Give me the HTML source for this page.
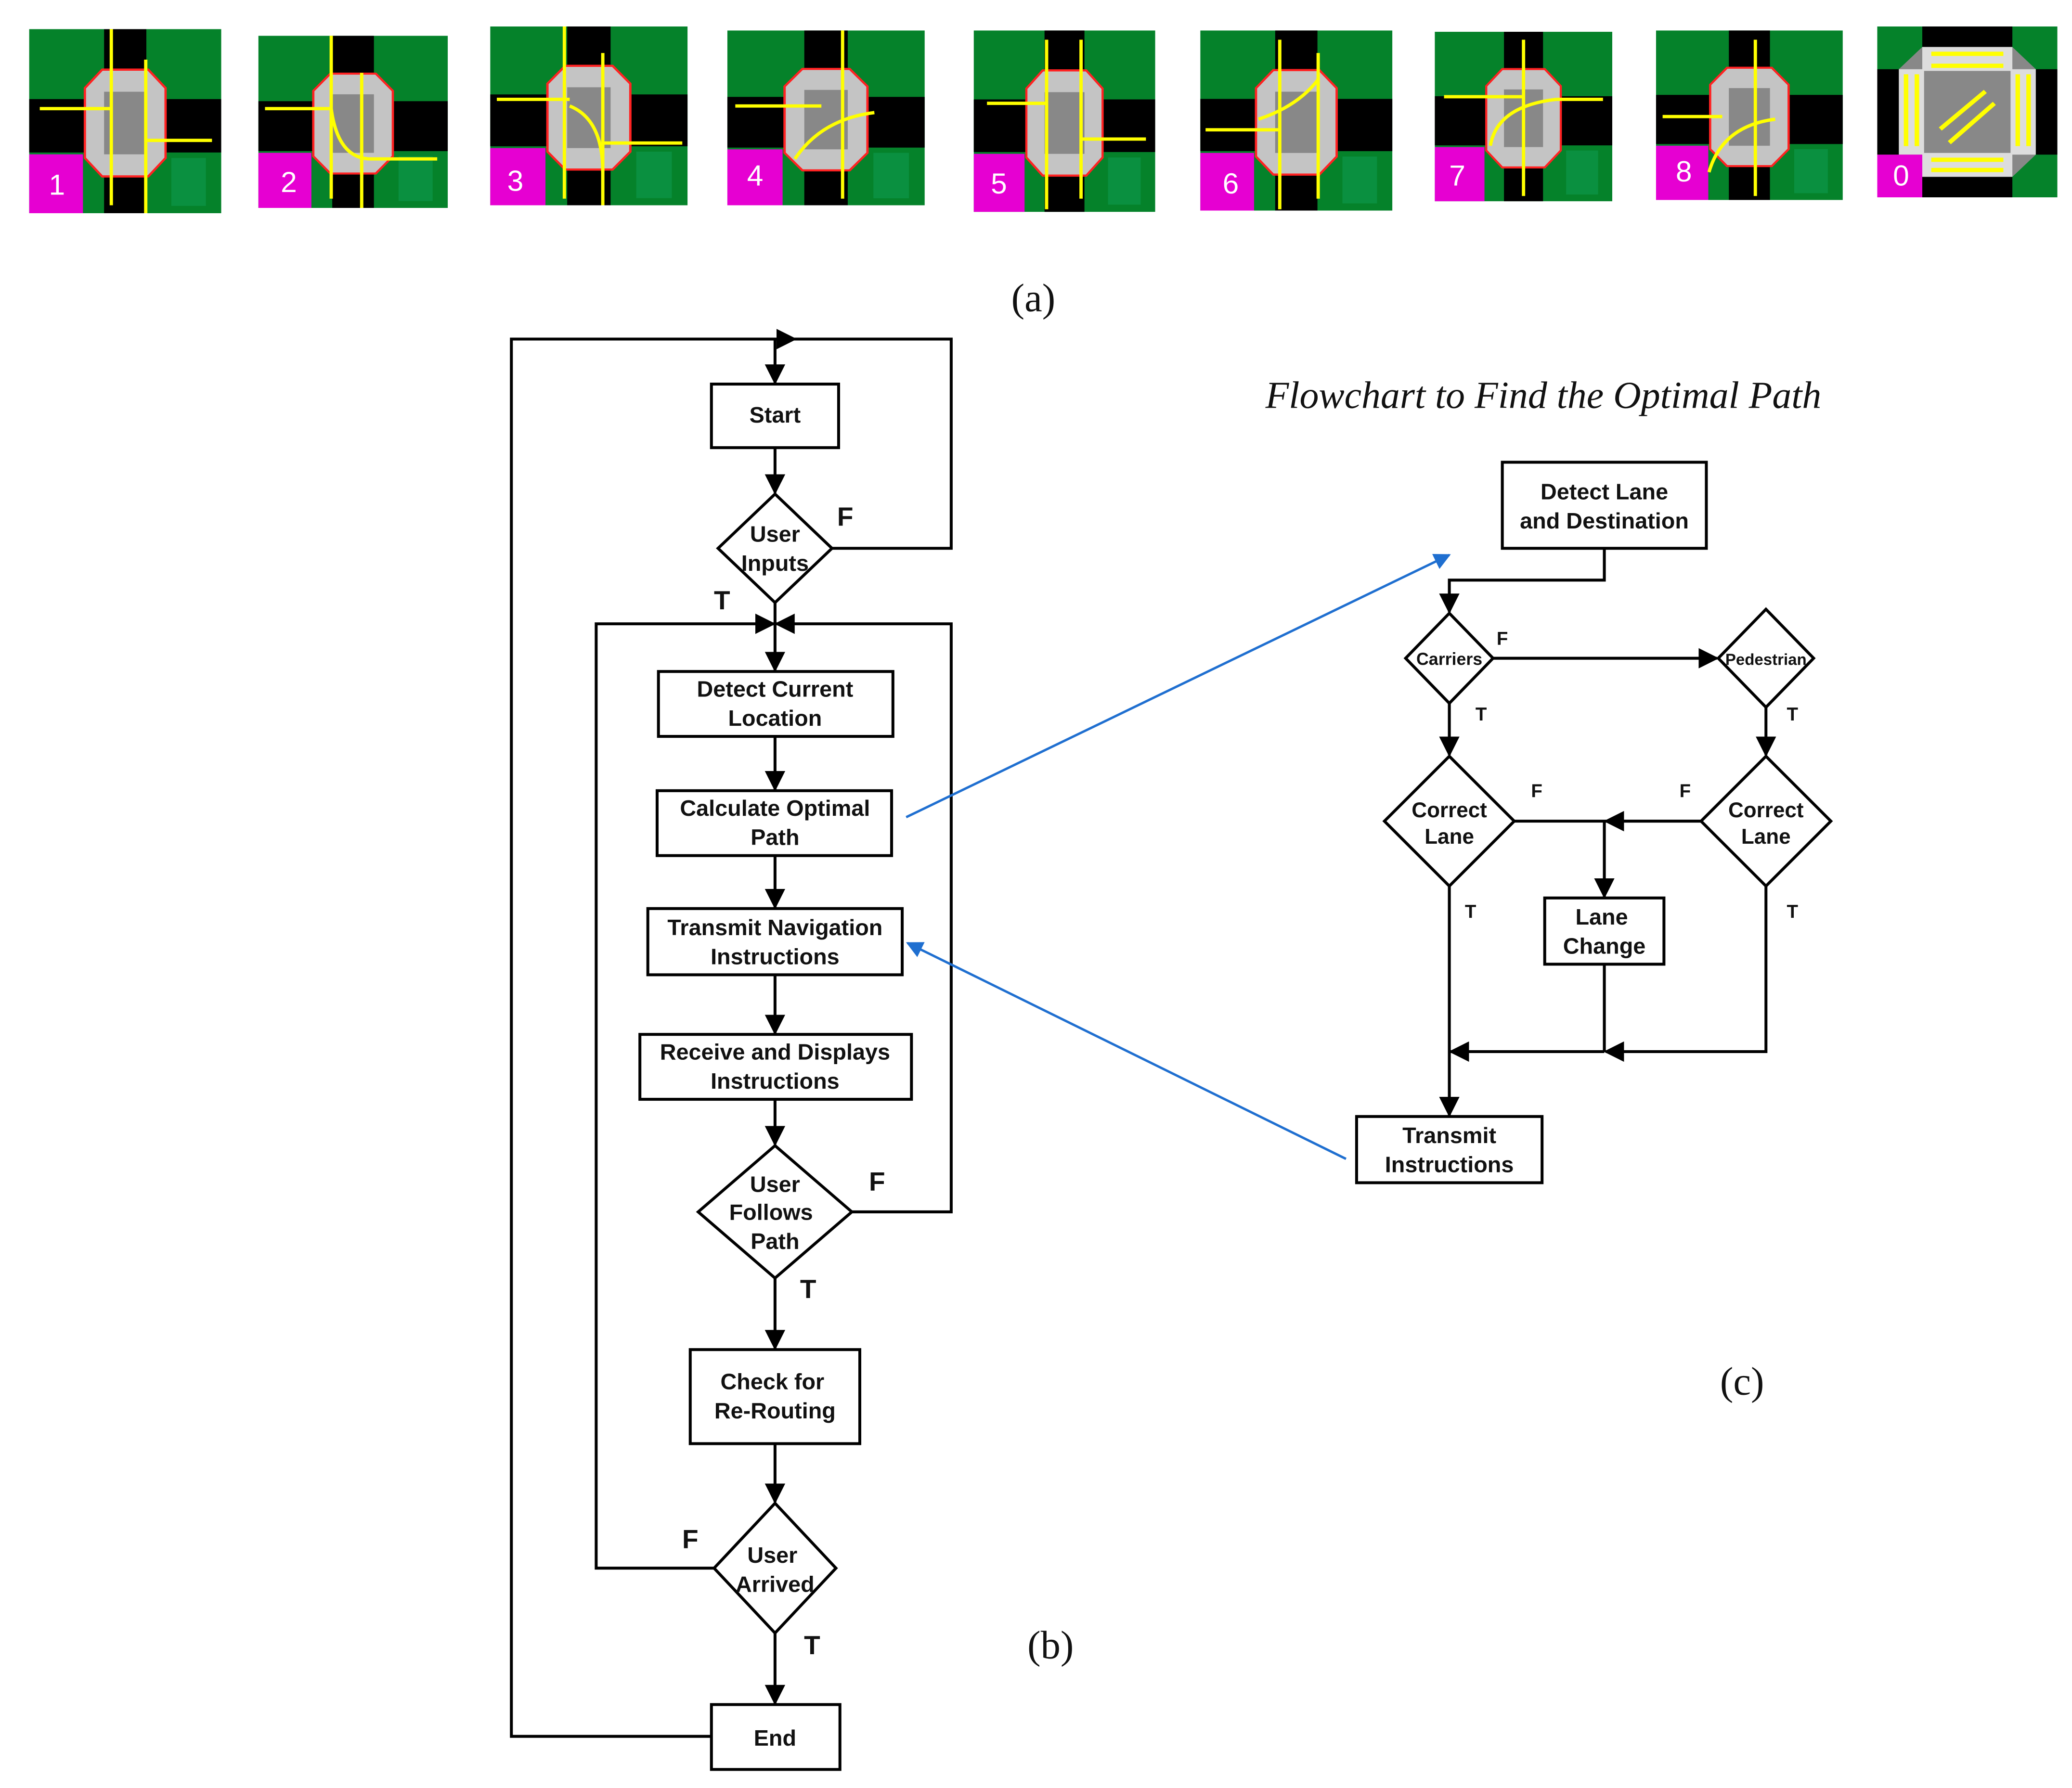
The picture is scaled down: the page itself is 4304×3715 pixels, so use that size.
<!DOCTYPE html>
<html><head><meta charset="utf-8"><style>
html,body{margin:0;padding:0;background:#fff;}
svg{display:block;}
.b{font-family:"Liberation Sans",sans-serif;font-weight:bold;font-size:17px;fill:#111;text-anchor:middle;}
.s{font-family:"Liberation Serif",serif;font-size:30px;fill:#111;text-anchor:middle;}
</style></head><body>
<svg width="4304" height="3715" viewBox="0 0 1564 1350" xmlns="http://www.w3.org/2000/svg">
<defs>
<symbol id="tile" viewBox="0 0 100 100" preserveAspectRatio="none">
<rect width="100" height="100" fill="#05822a"/>
<rect x="74" y="70" width="18" height="26" fill="#0a9040"/>
<rect x="39" y="0" width="22" height="100" fill="#000"/>
<rect x="0" y="38" width="100" height="29" fill="#000"/>
<polygon points="38,22 62,22 71,32 71,70 62,80 38,80 29,70 29,32" fill="#c4c4c4" stroke="#f22" stroke-width="1.2"/>
<rect x="39" y="34" width="22" height="34" fill="#888"/>
<rect x="0" y="68" width="28" height="32" fill="#e600d2"/>
</symbol>
<symbol id="tile0" viewBox="0 0 100 100" preserveAspectRatio="none">
<rect width="100" height="100" fill="#05822a"/>
<rect x="25" y="0" width="50" height="100" fill="#000"/>
<rect x="0" y="25" width="100" height="50" fill="#000"/>
<polygon points="25,12 75,12 88,25 88,75 75,88 25,88 12,75 12,25" fill="#888"/>
<rect x="25" y="12" width="50" height="14" fill="#ddd"/>
<rect x="25" y="74" width="50" height="14" fill="#ddd"/>
<rect x="12" y="25" width="14" height="50" fill="#ddd"/>
<rect x="74" y="25" width="14" height="50" fill="#ddd"/>
<g stroke="#ff0" stroke-width="2.5"><line x1="30" y1="16" x2="70" y2="16"/><line x1="30" y1="23" x2="70" y2="23"/><line x1="30" y1="78" x2="70" y2="78"/><line x1="30" y1="84" x2="70" y2="84"/><line x1="16" y1="28" x2="16" y2="70"/><line x1="22" y1="28" x2="22" y2="70"/><line x1="78" y1="28" x2="78" y2="70"/><line x1="84" y1="28" x2="84" y2="70"/><line x1="35" y1="60" x2="60" y2="38"/><line x1="40" y1="68" x2="65" y2="45"/></g>
<rect x="0" y="75" width="25" height="25" fill="#e600d2"/>
</symbol>
<marker id="ar" viewBox="0 0 10 10" refX="9" refY="5" markerWidth="7" markerHeight="7" orient="auto"><path d="M0,0L10,5L0,10z" fill="#000"/></marker>
<marker id="ab" viewBox="0 0 10 10" refX="9" refY="5" markerWidth="7" markerHeight="7" orient="auto"><path d="M0,0L10,5L0,10z" fill="#1f6fd0"/></marker>
</defs>
<!-- tiles -->
<g>
<use href="#tile" x="22" y="22" width="145" height="139"/>
<use href="#tile" x="195" y="27" width="143" height="130"/>
<use href="#tile" x="370" y="20" width="149" height="135"/>
<use href="#tile" x="549" y="23" width="149" height="132"/>
<use href="#tile" x="735" y="23" width="137" height="137"/>
<use href="#tile" x="906" y="23" width="145" height="136"/>
<use href="#tile" x="1083" y="24" width="134" height="128"/>
<use href="#tile" x="1250" y="23" width="141" height="128"/>
<use href="#tile0" x="1417" y="20" width="136" height="129"/>
</g>
<g stroke="#ff0" stroke-width="2.5" fill="none">
<line x1="84" y1="22" x2="84" y2="155"/><line x1="110" y1="45" x2="110" y2="161"/><line x1="30" y1="82" x2="84" y2="82"/><line x1="110" y1="106" x2="160" y2="106"/>
<line x1="250" y1="27" x2="250" y2="150"/><line x1="273" y1="55" x2="273" y2="157"/><line x1="200" y1="82" x2="250" y2="82"/><path d="M250,82 Q255,120 280,120 L330,120"/>
<line x1="426" y1="20" x2="426" y2="150"/><line x1="455" y1="40" x2="455" y2="155"/><line x1="375" y1="75" x2="430" y2="75"/><path d="M430,80 Q455,90 455,130"/><line x1="455" y1="108" x2="515" y2="108"/>
<line x1="636" y1="23" x2="636" y2="150"/><line x1="555" y1="80" x2="620" y2="80"/><path d="M600,120 Q620,90 660,85"/>
<line x1="790" y1="30" x2="790" y2="158"/><line x1="816" y1="30" x2="816" y2="150"/><line x1="745" y1="78" x2="790" y2="78"/><line x1="816" y1="105" x2="865" y2="105"/>
<line x1="966" y1="30" x2="966" y2="158"/><line x1="995" y1="40" x2="995" y2="150"/><line x1="910" y1="98" x2="966" y2="98"/><path d="M950,90 Q980,80 995,60"/>
<line x1="1150" y1="30" x2="1150" y2="148"/><line x1="1090" y1="73" x2="1150" y2="73"/><path d="M1125,110 Q1130,80 1175,75"/><line x1="1175" y1="75" x2="1210" y2="75"/>
<line x1="1325" y1="30" x2="1325" y2="148"/><line x1="1255" y1="88" x2="1300" y2="88"/><path d="M1290,130 Q1300,95 1340,90"/>
</g>
<g font-family="Liberation Sans,sans-serif" font-size="22" fill="#fff" text-anchor="middle">
<text x="43" y="147">1</text><text x="218" y="145">2</text><text x="389" y="144">3</text><text x="570" y="140">4</text><text x="754" y="146">5</text><text x="929" y="146">6</text><text x="1100" y="140">7</text><text x="1271" y="137">8</text><text x="1435" y="140">0</text>
</g>
<text class="s" x="780" y="235">(a)</text>
<text class="s" x="793" y="1252">(b)</text>
<text class="s" x="1315" y="1053">(c)</text>
<!-- left flowchart -->
<g stroke="#000" stroke-width="2.2" fill="none">
<path d="M537,1311 L386,1311 L386,256 L718,256 L718,414 L628,414"/>
<line x1="386" y1="256" x2="600" y2="256" marker-end="url(#ar)"/>
<line x1="585" y1="256" x2="585" y2="289" marker-end="url(#ar)"/>
<line x1="585" y1="338" x2="585" y2="372" marker-end="url(#ar)"/>
<line x1="585" y1="455" x2="585" y2="506" marker-end="url(#ar)"/>
<path d="M540,1184 L450,1184 L450,471 L584,471" marker-end="url(#ar)"/>
<path d="M642,915 L718,915 L718,471 L586,471" marker-end="url(#ar)"/>
<line x1="585" y1="556" x2="585" y2="596" marker-end="url(#ar)"/>
<line x1="585" y1="646" x2="585" y2="685" marker-end="url(#ar)"/>
<line x1="585" y1="736" x2="585" y2="780" marker-end="url(#ar)"/>
<line x1="585" y1="830" x2="585" y2="864" marker-end="url(#ar)"/>
<line x1="585" y1="965" x2="585" y2="1018" marker-end="url(#ar)"/>
<line x1="585" y1="1090" x2="585" y2="1134" marker-end="url(#ar)"/>
<line x1="585" y1="1233" x2="585" y2="1286" marker-end="url(#ar)"/>
<rect x="537" y="290" width="96" height="48" fill="#fff"/>
<polygon points="585,373 628,414 585,455 542,414" fill="#fff"/>
<rect x="497" y="507" width="177" height="49" fill="#fff"/>
<rect x="496" y="597" width="177" height="49" fill="#fff"/>
<rect x="489" y="686" width="192" height="50" fill="#fff"/>
<rect x="483" y="781" width="205" height="49" fill="#fff"/>
<polygon points="585,865 643,915 585,965 527,915" fill="#fff"/>
<rect x="521" y="1019" width="128" height="71" fill="#fff"/>
<polygon points="585,1135 631,1184 585,1233 539,1184" fill="#fff"/>
<rect x="537" y="1287" width="97" height="49" fill="#fff"/>
</g>
<g class="b">
<text x="585" y="319">Start</text>
<text x="585" y="409">User</text><text x="585" y="431">Inputs</text>
<text x="585" y="526">Detect Current</text><text x="585" y="548">Location</text>
<text x="585" y="616">Calculate Optimal</text><text x="585" y="638">Path</text>
<text x="585" y="706">Transmit Navigation</text><text x="585" y="728">Instructions</text>
<text x="585" y="800">Receive and Displays</text><text x="585" y="822">Instructions</text>
<text x="585" y="900">User</text><text x="582" y="921">Follows</text><text x="585" y="943">Path</text>
<text x="583" y="1049">Check for</text><text x="585" y="1071">Re-Routing</text>
<text x="583" y="1180">User</text><text x="585" y="1202">Arrived</text>
<text x="585" y="1318">End</text>
<text x="638" y="397" font-size="20">F</text><text x="545" y="460" font-size="20">T</text>
<text x="662" y="899" font-size="20">F</text><text x="610" y="980" font-size="20">T</text>
<text x="521" y="1169" font-size="20">F</text><text x="613" y="1249" font-size="20">T</text>
</g>
<!-- right flowchart -->
<text x="1165" y="308" font-family="Liberation Serif,serif" font-style="italic" font-size="29" text-anchor="middle" fill="#111">Flowchart to Find the Optimal Path</text>
<g stroke="#000" stroke-width="2.2" fill="none">
<path d="M1211,414 L1211,438 L1094,438 L1094,462" marker-end="url(#ar)"/>
<line x1="1127" y1="497" x2="1296" y2="497" marker-end="url(#ar)"/>
<line x1="1094" y1="531" x2="1094" y2="570" marker-end="url(#ar)"/>
<line x1="1333" y1="534" x2="1333" y2="570" marker-end="url(#ar)"/>
<line x1="1143" y1="620" x2="1284" y2="620"/>
<line x1="1284" y1="620" x2="1212" y2="620" marker-end="url(#ar)"/>
<line x1="1211" y1="620" x2="1211" y2="677" marker-end="url(#ar)"/>
<line x1="1094" y1="669" x2="1094" y2="842" marker-end="url(#ar)"/>
<path d="M1333,669 L1333,794 L1212,794" marker-end="url(#ar)"/>
<line x1="1211" y1="728" x2="1211" y2="794"/>
<line x1="1211" y1="794" x2="1095" y2="794" marker-end="url(#ar)"/>
<rect x="1134" y="349" width="154" height="65" fill="#fff"/>
<polygon points="1094,463 1127,497 1094,531 1061,497" fill="#fff"/>
<polygon points="1333,460 1369,497 1333,534 1297,497" fill="#fff"/>
<polygon points="1094,571 1143,620 1094,669 1045,620" fill="#fff"/>
<polygon points="1333,571 1382,620 1333,669 1284,620" fill="#fff"/>
<rect x="1166" y="678" width="90" height="50" fill="#fff"/>
<rect x="1024" y="843" width="140" height="50" fill="#fff"/>
</g>
<g class="b">
<text x="1211" y="377">Detect Lane</text><text x="1211" y="399">and Destination</text>
<text x="1094" y="502" font-size="13">Carriers</text>
<text x="1333" y="502" font-size="12">Pedestrian</text>
<text x="1094" y="617" font-size="16">Correct</text><text x="1094" y="637" font-size="16">Lane</text>
<text x="1333" y="617" font-size="16">Correct</text><text x="1333" y="637" font-size="16">Lane</text>
<text x="1209" y="698">Lane</text><text x="1211" y="720">Change</text>
<text x="1094" y="863">Transmit</text><text x="1094" y="885">Instructions</text>
<text x="1134" y="487" font-size="14">F</text><text x="1118" y="544" font-size="14">T</text><text x="1353" y="544" font-size="14">T</text>
<text x="1160" y="602" font-size="14">F</text><text x="1272" y="602" font-size="14">F</text>
<text x="1110" y="693" font-size="14">T</text><text x="1353" y="693" font-size="14">T</text>
</g>
<g stroke="#1f6fd0" stroke-width="1.8" fill="none">
<line x1="684" y1="617" x2="1094" y2="419" marker-end="url(#ab)"/>
<line x1="1016" y1="875" x2="685" y2="712" marker-end="url(#ab)"/>
</g>
</svg>
</body></html>
